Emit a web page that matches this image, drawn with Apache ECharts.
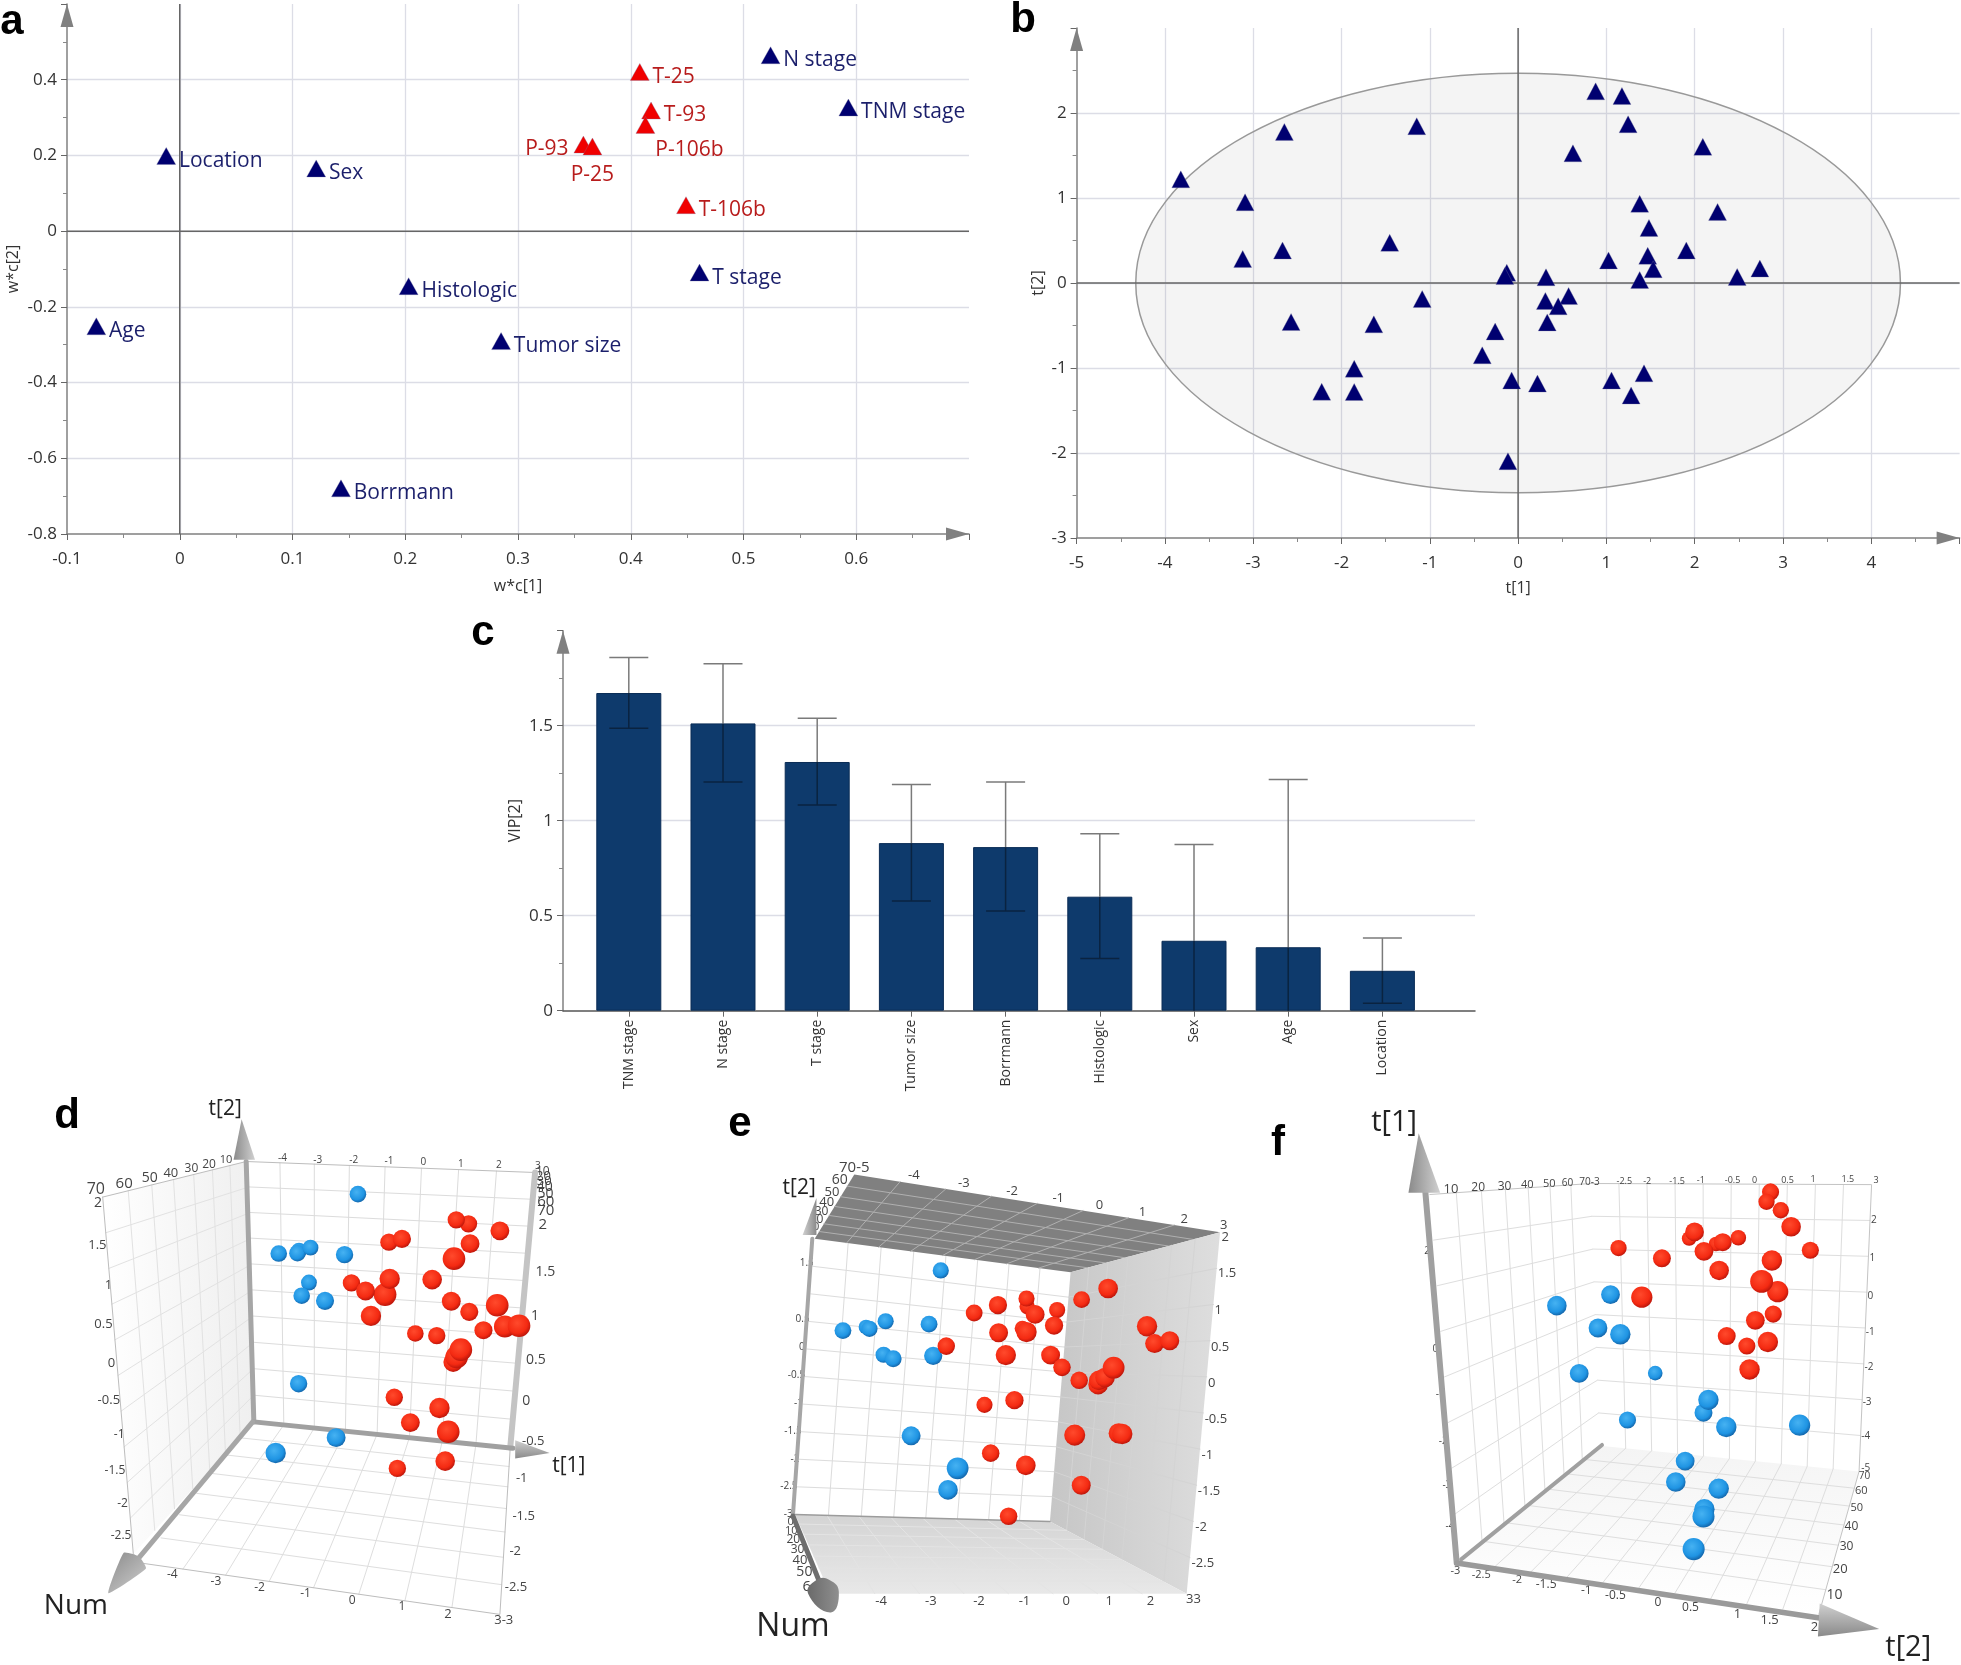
<!DOCTYPE html>
<html><head><meta charset="utf-8">
<style>html,body{margin:0;padding:0;background:#fff}#c{width:1961px;height:1665px}</style>
<script src="https://cdn.jsdelivr.net/npm/echarts@6/dist/echarts.min.js"></script>
</head><body><div id="c"></div>
<script>
/* ---------- panel a : loading plot ---------- */
const aBlueNames=['N stage','TNM stage','Location','Sex','T stage','Histologic','Age','Tumor size','Borrmann'];
const aBlueX=[0.524,0.593,-0.012,0.121,0.461,0.203,-0.074,0.285,0.143];
const aBlueY=[0.462,0.324,0.196,0.163,-0.112,-0.148,-0.254,-0.293,-0.682];
const aRedNames=['T-25','T-93','P-106b','P-93','P-25','T-106b'];
const aRedX=[0.408,0.418,0.413,0.358,0.366,0.449];
const aRedY=[0.418,0.316,0.278,0.226,0.221,0.066];
/* ---------- panel b : score plot ---------- */
const bX=[0.878,1.176,1.246,-1.148,-2.647,2.092,0.621,-3.820,-3.092,1.377,2.259,1.482,-1.454,-2.668,1.905,-3.119,1.024,1.468,1.530,2.738,2.481,-0.128,-0.15,0.316,1.377,0.572,0.309,0.454,0.330,-1.086,-2.571,-1.634,-0.260,-0.406,-1.856,1.426,1.058,-0.073,0.219,1.280,-2.224,-1.856,-0.115];
const bY=[2.243,2.189,1.856,1.833,1.766,1.590,1.514,1.208,0.938,0.920,0.825,0.636,0.461,0.371,0.371,0.272,0.254,0.308,0.150,0.159,0.060,0.110,0.07,0.056,0.024,-0.165,-0.223,-0.286,-0.475,-0.200,-0.471,-0.498,-0.583,-0.862,-1.020,-1.074,-1.159,-1.159,-1.195,-1.335,-1.290,-1.294,-2.109];
const bEllipse=[0,0,4.33,2.468];
/* ---------- panel c : VIP ---------- */
const cCats=['TNM stage','N stage','T stage','Tumor size','Borrmann','Histologic','Sex','Age','Location'];
const cVip=[1.672,1.512,1.309,0.882,0.861,0.600,0.368,0.334,0.210];
const cHigh=[1.859,1.826,1.539,1.190,1.204,0.931,0.875,1.217,0.382];
const cLow=[1.486,1.204,1.083,0.578,0.525,0.275,0,0,0.039];
/* ---------- 3D views, read in each view's projected plane: [across, down, apparent diameter] ---------- */
const dBlue=[[703,438,42],[857,284,44],[650,446,44],[699,445,44],[733,430,42],[822,449,46],[729,525,42],[710,561,44],[771,575,48],[702,801,46],[800,948,50],[642,990,54]];
const dRed=[[1146,365,46],[1114,354,46],[1228,384,50],[938,415,46],[972,406,48],[1150,419,50],[1108,460,60],[1051,517,52],[840,526,46],[928,558,60],[940,515,54],[877,548,50],[1101,576,50],[1148,605,48],[1221,587,60],[891,616,54],[1185,655,48],[1241,645,58],[1278,643,60],[1007,664,44],[1063,670,46],[1106,742,52],[1115,728,60],[1126,708,60],[952,838,46],[1070,867,54],[994,907,50],[1093,932,60],[1085,1012,52],[960,1032,46]];
const eBlue=[[641,473,46],[357,640,48],[424,630,42],[434,635,46],[481,614,46],[607,622,48],[475,707,46],[503,718,48],[619,710,52],[555,932,54],[690,1022,62],[662,1082,56]];
const eRed=[[1127,523,56],[1050,554,48],[892,573,44],[890,551,46],[979,583,46],[738,591,48],[807,569,52],[915,595,54],[970,626,52],[809,646,54],[878,634,44],[890,644,58],[657,683,50],[830,708,58],[960,708,54],[993,742,50],[1043,778,50],[1240,628,58],[1262,676,54],[1306,668,54],[1098,790,56],[1100,778,56],[1118,770,56],[1143,743,62],[855,833,52],[768,846,46],[1030,930,60],[1158,925,58],[1168,927,58],[786,980,50],[888,1014,56],[1049,1069,54],[838,1155,50]];
const fBlue=[[664,588,48],[784,558,46],[756,649,46],[806,666,50],[714,773,46],[884,772,36],[992,880,44],[1003,845,50],[822,900,42],[1043,919,50],[1207,914,52],[951,1012,46],[930,1069,48],[1026,1087,50],[994,1143,50],[992,1163,54],[970,1252,54]];
const fRed=[[1142,278,42],[1133,305,40],[1165,328,40],[1188,373,48],[960,405,36],[972,387,46],[1070,403,38],[1020,420,36],[1035,415,44],[993,440,46],[802,431,40],[899,459,44],[1231,437,42],[1145,465,50],[1027,492,48],[1158,550,52],[1122,522,56],[854,565,52],[1148,611,42],[1108,628,46],[1044,671,44],[1089,698,42],[1136,687,50],[1095,762,50]];

/* ---------- view furniture ---------- */
const persp=(t,r)=>t/(t+(1-t)*r);
const lerp=(a,b,t)=>[a[0]+(b[0]-a[0])*t,a[1]+(b[1]-a[1])*t];
function wall(c,nu,nv,ru,rv,fill,line){
  const [A,B,C,D]=c,out=[{pts:c,fill}];
  for(let i=1;i<nu;i++){const t=persp(i/nu,ru);out.push({pts:[lerp(A,B,t),lerp(D,C,t)],stroke:line,w:1});}
  for(let j=1;j<nv;j++){const s=persp(j/nv,rv);out.push({pts:[lerp(A,D,s),lerp(B,C,s)],stroke:line,w:1});}
  return out;
}
const cone=['#8a8a8a','#d0d0d0'];
const dShapes=[
 ...wall([[190,292],[565,195],[585,905],[270,1265]],7,10,.77,1,[0,0,1,0,'#ffffff','#efefef'],'#e2e2e2'),
 ...wall([[565,195],[1320,225],[1255,975],[585,905]],8,10,1.08,1.03,'#ffffff','#dcdcdc'),
 ...wall([[585,905],[1255,975],[1228,1430],[290,1290]],8,7,1.08,1.3,'#ffffff','#dedede'),
 {pts:[[190,292],[565,195],[1320,225]],stroke:'#bdbdbd',w:1},
 {pts:[[190,292],[270,1265],[290,1290],[1228,1430],[1255,975]],stroke:'#bdbdbd',w:1}
];
const dAxes=[
 {pts:[[1320,225],[1255,975]],stroke:'#c4c4c4',w:6},
 {pts:[[565,195],[585,905]],stroke:'#a6a6a6',w:5},
 {pts:[[585,905],[1262,977]],stroke:'#a0a0a0',w:5},
 {pts:[[582,905],[285,1275]],stroke:'#a6a6a6',w:5},
 {pts:[[532,190],[553,80],[588,190]],fill:[0,0,1,0,cone[0],cone[1]]},
 {pts:[[1268,955],[1358,990],[1268,1005]],fill:[0,0,0,1,cone[1],cone[0]]},
 {pts:[[245,1262],[205,1372],[303,1305],[285,1272]],smooth:.15,fill:[0,0,1,1,cone[0],cone[1]]}
];
const dText=[['-4',660,186,10],['-3',752,190,10],['-2',846,192,10],['-1',938,195,10],['0',1028,198,10],['1',1126,203,10],['2',1225,206,10],['3',1327,208,10],
 ['10',512,190,11],['20',468,203,12],['30',422,214,12],['40',368,226,13],['50',313,240,14],['60',246,256,15],['70',172,272,16],
 ['2',178,308,14],['1.5',176,424,13],['1',205,533,13],['0.5',192,640,13],['0',213,745,13],['-0.5',206,847,13],['-1',233,940,12],['-1.5',222,1037,12],['-2',242,1128,12],['-2.5',238,1216,12],
 ['-4',372,1322,12],['-3',486,1340,12],['-2',600,1357,12],['-1',720,1374,12],['0',842,1392,12],['1',972,1410,12],['2',1092,1430,13],['3-3',1238,1447,13],
 ['-0.5',1315,957,13],['-1',1285,1060,13],['-1.5',1290,1162,13],['-2',1268,1258,13],['-2.5',1270,1355,13],
 ['2',1340,368,15],['1.5',1347,495,14],['1',1320,615,14],['0.5',1322,735,14],['0',1297,847,14],
 ['10',1340,222,12],['20',1342,235,13],['30',1344,250,13],['40',1345,265,14],['50',1347,285,14],['60',1348,305,15],['70',1348,328,15],
 ['t[2]',510,52,21],['t[1]',1408,1025,21],['Num',120,1408,28]];

const eShapes=[
 ...wall([[275,385],[1018,478],[958,1170],[218,1150]],8,10,.95,1,'#ffffff','#dcdcdc'),
 ...wall([[390,207],[1452,367],[1018,478],[275,385]],8,7,1,.76,'#808080','#b0b0b0'),
 ...wall([[1018,478],[1452,367],[1355,1370],[958,1170]],7,10,1.2,1,[0,0,1,0,'#c6c6c6','#dedede'],'#d4d4d4'),
 ...wall([[218,1150],[958,1170],[1355,1370],[320,1370]],8,7,1,1.2,[0,0,0,1,'#d4d4d4','#e8e8e8'],'#e4e4e4')
];
const eAxes=[
 {pts:[[218,1150],[958,1170]],stroke:'#9c9c9c',w:1.5},
 {pts:[[268,385],[212,1150]],stroke:'#a6a6a6',w:4},
 {pts:[[240,375],[280,272],[280,375]],fill:[0,0,1,0,cone[1],cone[0]]},
 {pts:[[212,1155],[290,1340]],stroke:'#6e6e6e',w:5},
 {pts:[[256,1370],[280,1332],[318,1332],[345,1365],[322,1422]],smooth:.5,fill:[0,0,1,0,'#6a6a6a','#8f8f8f']}
];
const eUnder=[['1.5',252,452,10],['0.5',240,608,10],['0',238,686,10],['-0.5',222,763,10],['-1',228,842,10],['-1.5',212,918,10],['-2',218,997,10],['-2.5',200,1073,10],['-3',198,1150,10]];
const eText=[['70-5',390,187,15],['60',348,222,14],['50',325,255,13],['40',310,285,13],['30',295,310,12],['20',280,332,12],['10',270,352,11],
 ['-4',563,210,13],['-3',708,232,13],['-2',848,252,13],['-1',982,273,13],['0',1102,293,13],['1',1227,313,13],['2',1348,330,13],['3',1463,348,13],
 ['2',1467,380,13],['1.5',1472,482,13],['1',1447,583,13],['0.5',1452,685,13],['0',1428,785,13],['-0.5',1440,887,13],['-1',1415,987,13],['-1.5',1420,1087,13],['-2',1397,1186,13],['-2.5',1402,1285,13],['33',1375,1386,13],
 ['-4',468,1392,13],['-3',612,1392,13],['-2',752,1392,13],['-1',884,1392,13],['0',1005,1390,13],['1',1130,1390,13],['2',1250,1390,13],
 ['0',205,1172,11],['10',207,1195,11],['20',213,1220,12],['30',225,1247,12],['40',232,1277,13],['50',245,1310,14],['6',252,1350,15],
 ['t[2]',230,245,21],['Num',212,1462,32]];

const fShapes=[
 ...wall([[380,285],[740,255],[760,970],[445,1280]],7,8,.85,1,'#ffffff','#dedede'),
 ...wall([[740,255],[1368,258],[1340,1040],[760,970]],10,8,1,1,'#ffffff','#dedede'),
 ...wall([[760,970],[1340,1040],[1250,1430],[445,1285]],10,7,1,1.25,[0,0,0,1,'#f4f4f4','#ffffff'],'#dedede'),
 {pts:[[380,285],[740,255],[1368,258],[1340,1040],[1250,1430]],stroke:'#c4c4c4',w:1}
];
const fAxes=[
 {pts:[[370,280],[440,1290]],stroke:'#a0a0a0',w:6},
 {pts:[[765,968],[450,1280]],stroke:'#a0a0a0',w:4},
 {pts:[[440,1290],[1252,1440]],stroke:'#9a9a9a',w:5.5},
 {pts:[[332,280],[355,118],[403,280]],fill:[0,0,1,0,cone[0],cone[1]]},
 {pts:[[1252,1400],[1385,1470],[1248,1490]],fill:[0,0,0,1,cone[1],cone[0]]}
];
const fUnder=[['2',374,440,10],['0',392,706,10],['-1',403,830,10],['-2',410,958,10],['-3',418,1077,10],['-4',425,1190,10]];
const fText=[['10',427,270,13],['20',488,267,12],['30',547,263,12],['40',598,260,11],['50',647,257,11],['60',688,255,10],['70-3',737,252,10],
 ['-2.5',815,250,9],['-2',866,249,9],['-1.5',933,248,9],['-1',986,247,9],['-0.5',1057,246,9],['0',1106,246,9],['0.5',1180,246,9],['1',1237,245,9],['1.5',1315,245,9],['3',1378,247,9],
 ['2',1373,355,10],['1',1370,458,10],['0',1365,562,10],['-1',1365,660,10],['-2',1362,757,10],['-3',1358,852,10],['-4',1355,945,10],['-5',1355,1032,10],
 ['70',1352,1053,10],['60',1345,1094,11],['50',1335,1140,11],['40',1323,1190,12],['30',1312,1246,12],['20',1298,1308,13],['10',1285,1378,14],
 ['-3',437,1310,11],['-2.5',495,1322,11],['-2',575,1335,11],['-1.5',640,1350,12],['-1',730,1365,12],['-0.5',795,1380,12],['0',890,1397,12],['0.5',963,1412,12],['1',1068,1430,13],['1.5',1140,1447,13],['2',1240,1465,13],
 ['t[1]',300,90,29],['t[2]',1450,1522,29]];

/* ---------- layout tables ---------- */
const FONT='"Open Sans","Noto Sans",sans-serif';
const aLabelPlace={'P-93':{position:'left',offset:[-2,4]},'P-106b':{position:'inside',offset:[44,25]},'P-25':{position:'inside',offset:[0,29]}};
const view3d=[
 {box:[30,1090,600,575],shapes:dShapes,axes:dAxes,text:dText,under:[],blue:dBlue,red:dRed,k:2.65},
 {box:[720,1100,540,565],shapes:eShapes,axes:eAxes,text:eText,under:eUnder,blue:eBlue,red:eRed,k:2.85},
 {box:[1260,1090,701,575],shapes:fShapes,axes:fAxes,text:fText,under:fUnder,blue:fBlue,red:fRed,k:2.45}
];
const letters=[['a',12,22],['b',1023,20],['c',483,633],['d',67,1116],['e',740,1124],['f',1278,1143]];

const GRID='#dcdde6', AX='#808080', TXT='#333';
const navy='#000070', redM='#f00000';
const arrowLine={show:true,onZero:false,symbol:['none','triangle'],symbolSize:[13,23],symbolOffset:[0,-11.5],lineStyle:{color:AX,width:1.5}};
const lab={color:TXT,fontFamily:FONT,fontSize:17};
function valAxis(o){
  return Object.assign({type:'value',axisLine:arrowLine,axisTick:{show:true,length:6,lineStyle:{color:'#666'}},
   minorTick:{show:true,splitNumber:2,length:4,lineStyle:{color:'#888'}},
   splitLine:{show:true,showMinLine:false,showMaxLine:false,lineStyle:{color:GRID,width:1.3}},
   minorSplitLine:{show:false},nameLocation:'middle',
   nameTextStyle:{color:TXT,fontFamily:FONT,fontSize:16}},o);
}
const fmt=v=>String(+v.toFixed(2));
const grids=[
 {left:67,top:4,width:902,height:530},
 {left:1076.6,top:28,width:883,height:510},
 {left:563,top:630.7,width:912,height:380}
];
const xAxes=[
 valAxis({gridIndex:0,min:-0.1,max:0.7,interval:0.1,name:'w*c[1]',nameGap:44,axisLabel:{...lab,margin:17,showMaxLabel:false,formatter:fmt}}),
 valAxis({gridIndex:1,min:-5,max:5,interval:1,name:'t[1]',nameGap:42,axisLabel:{...lab,margin:17,showMaxLabel:false}}),
 {type:'value',gridIndex:2,min:-0.6985,max:8.983,splitLine:{show:false},
  axisLine:{show:true,onZero:false,lineStyle:{color:'#555',width:1.5}},
  axisTick:{show:true,length:6,customValues:cCats.map((_,i)=>i),lineStyle:{color:'#666'}},
  axisLabel:{color:TXT,fontFamily:FONT,fontSize:14,rotate:90,margin:9,customValues:cCats.map((_,i)=>i),formatter:v=>cCats[v]}}
];
const yAxes=[
 valAxis({gridIndex:0,min:-0.8,max:0.6,interval:0.2,name:'w*c[2]',nameGap:46,axisLabel:{...lab,margin:10,padding:[3,0,0,0],showMaxLabel:false,formatter:fmt}}),
 valAxis({gridIndex:1,min:-3,max:3,interval:1,name:'t[2]',nameGap:30,axisLabel:{...lab,margin:10,padding:[2,0,0,0],showMaxLabel:false}}),
 valAxis({gridIndex:2,min:0,max:2,interval:0.5,name:'VIP[2]',nameGap:40,axisLabel:{...lab,margin:10,showMaxLabel:false}})
];

/* ---------- shape helpers ---------- */
function mkFill(f){return Array.isArray(f)?new echarts.graphic.LinearGradient(f[0],f[1],f[2],f[3],[{offset:0,color:f[4]},{offset:1,color:f[5]}]):f;}
function shapeSeries(shapes,ax,z){
 return {type:'custom',xAxisIndex:ax,yAxisIndex:ax,z,silent:true,clip:false,coordinateSystem:'cartesian2d',
  encode:{x:0,y:1},data:shapes.map(s=>[s.pts[0][0],s.pts[0][1]]),
  renderItem(p,api){
   const s=shapes[p.dataIndex],pts=s.pts.map(q=>api.coord(q));
   if(s.fill) return {type:'polygon',shape:{points:pts,smooth:s.smooth||0},style:{fill:mkFill(s.fill),stroke:null}};
   return {type:'polyline',shape:{points:pts},style:{fill:null,stroke:s.stroke,lineWidth:s.w,lineCap:'round'}};
  }};
}
function textSeries(items,ax,z){
 return {type:'custom',xAxisIndex:ax,yAxisIndex:ax,z,silent:true,clip:false,
  encode:{x:0,y:1},data:items.map(t=>[t[1],t[2]]),
  renderItem(p,api){
   const t=items[p.dataIndex],c=api.coord([t[1],t[2]]);
   return {type:'text',x:c[0],y:c[1],style:{text:t[0],fill:t[3]>20?'#222':'#444',font:t[3]+'px '+FONT,align:'center',verticalAlign:'middle'}};
  }};
}
function ball(stops){return {type:'radial',x:.42,y:.38,r:.62,colorStops:stops.map((c,i)=>({offset:[0,.72,1][i],color:c}))};}
const redBall=ball(['#ff4a2c','#f42a12','#bf170b']), blueBall=ball(['#46b2f2','#1f94e3','#1468ad']);

const series=[];
/* a */
const zero=(ax,xs,ys)=>({type:'line',xAxisIndex:ax,yAxisIndex:ax,data:xs.map((x,i)=>[x,ys[i]]),symbol:'none',silent:true,z:1,lineStyle:{color:'#666',width:1.5}});
series.push(zero(0,[0,0],[-0.8,0.6]),zero(0,[-0.1,0.7],[0,0]));
function triSeries(ax,xs,ys,names,color,labColor,size){
 return {type:'scatter',xAxisIndex:ax,yAxisIndex:ax,symbol:'triangle',symbolSize:size,symbolOffset:[0,-1],z:5,
  itemStyle:{color,opacity:1,borderColor:'rgba(120,120,160,.6)',borderWidth:.5},
  data:xs.map((x,i)=>{
   const d={value:[x,ys[i]]};
   if(names){const pl=aLabelPlace[names[i]]||{position:'right',offset:[0,5]};
    d.name=names[i];
    d.label={show:true,formatter:names[i],color:labColor,fontFamily:FONT,fontSize:21,distance:3,...pl};}
   return d;})};
}
series.push(triSeries(0,aBlueX,aBlueY,aBlueNames,navy,'#1b1f6b',[19,17]));
series.push(triSeries(0,aRedX,aRedY,aRedNames,redM,'#b81c1c',[19,17]));
/* b */
series.push({type:'custom',xAxisIndex:1,yAxisIndex:1,z:1,silent:true,encode:{x:0,y:1},data:[bEllipse],
 renderItem(p,api){
  const c=api.coord([api.value(0),api.value(1)]),e=api.coord([api.value(0)+api.value(2),api.value(1)+api.value(3)]);
  return {type:'ellipse',shape:{cx:c[0],cy:c[1],rx:e[0]-c[0],ry:c[1]-e[1]},style:{fill:'rgba(120,120,120,.08)',stroke:'#999',lineWidth:1.5}};
 }});
series.push(zero(1,[0,0],[-3,3]),zero(1,[-5,5],[0,0]));
series.push(triSeries(1,bX,bY,null,navy,null,[18,17]));
/* c */
series.push({type:'bar',xAxisIndex:2,yAxisIndex:2,z:3,barWidth:65,data:cVip.map((v,i)=>[i,v]),
 itemStyle:{color:'#0e3a6c',borderColor:'#0a2c56',borderWidth:1}});
series.push({type:'custom',xAxisIndex:2,yAxisIndex:2,z:4,silent:true,encode:{x:0,y:[1,2]},
 data:cCats.map((_,i)=>[i,cLow[i],cHigh[i],cVip[i]]),
 renderItem(p,api){
  const x=api.value(0),lo=api.coord([x,api.value(1)]),hi=api.coord([x,api.value(2)]),top=api.coord([x,api.value(3)]),h=19.5;
  const gray={stroke:'#7a7a7a',lineWidth:1.5}, dark={stroke:'#0a2340',lineWidth:1.5};
  const kids=[{type:'line',shape:{x1:lo[0],y1:lo[1],x2:top[0],y2:top[1]},style:dark},
   {type:'line',shape:{x1:top[0],y1:top[1],x2:hi[0],y2:hi[1]},style:gray},
   {type:'line',shape:{x1:hi[0]-h,y1:hi[1],x2:hi[0]+h,y2:hi[1]},style:gray}];
  if(api.value(1)>0)kids.push({type:'line',shape:{x1:lo[0]-h,y1:lo[1],x2:lo[0]+h,y2:lo[1]},style:dark});
  return {type:'group',children:kids};
 }});
/* d e f */
view3d.forEach((v,n)=>{
 const ax=3+n;
 grids.push({left:v.box[0],top:v.box[1],width:v.box[2],height:v.box[3]});
 xAxes.push({type:'value',gridIndex:ax,min:0,max:1568,show:false});
 yAxes.push({type:'value',gridIndex:ax,min:0,max:1568,inverse:true,show:false});
 if(v.under.length)series.push(textSeries(v.under,ax,1));
 series.push(shapeSeries(v.shapes,ax,2));
 series.push(textSeries(v.text,ax,3));
 series.push(shapeSeries(v.axes,ax,4));
 [[v.blue,blueBall],[v.red,redBall]].forEach(([pts,col])=>{
  series.push({type:'scatter',xAxisIndex:ax,yAxisIndex:ax,z:5,data:pts,symbolSize:d=>d[2]/v.k,
   itemStyle:{color:col,opacity:1}});
 });
});

const chart=echarts.init(document.getElementById('c'),null,{renderer:'canvas'});
chart.setOption({
 animation:false,backgroundColor:'#fff',grid:grids,xAxis:xAxes,yAxis:yAxes,series,
 tooltip:{show:false},
 graphic:letters.map(l=>({type:'text',x:l[1],y:l[2],z:50,style:{text:l[0],font:'bold 42px "Liberation Sans",Arial,sans-serif',fill:'#000',align:'center',verticalAlign:'middle'}}))
});
</script></body></html>
